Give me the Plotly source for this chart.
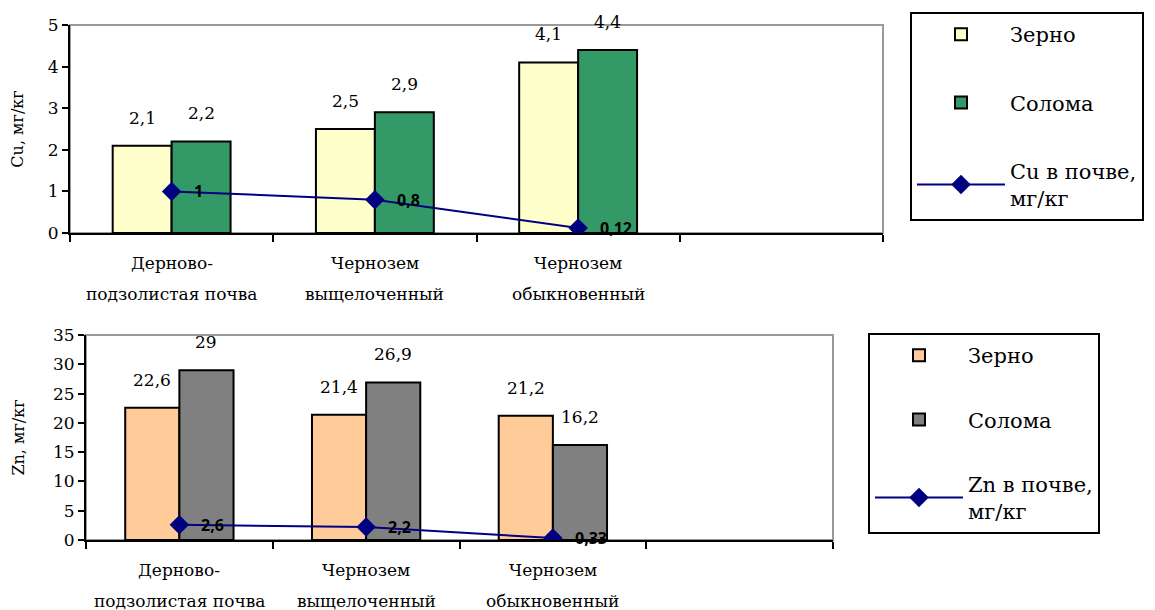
import plotly.graph_objects as go

# ---------------- data ----------------
categories = ["Дерново-подзолистая почва", "Чернозем выщелоченный", "Чернозем обыкновенный"]
empty_slot = " "
cat_line1 = ["Дерново-", "Чернозем", "Чернозем"]
cat_line2 = ["подзолистая почва", "выщелоченный", "обыкновенный"]

cu_grain = [2.1, 2.5, 4.1]
cu_straw = [2.2, 2.9, 4.4]
cu_soil = [1, 0.8, 0.12]

zn_grain = [22.6, 21.4, 21.2]
zn_straw = [29, 26.9, 16.2]
zn_soil = [2.6, 2.2, 0.33]

cu_yticks = [0, 1, 2, 3, 4, 5]
zn_yticks = [0, 5, 10, 15, 20, 25, 30, 35]

series_names = ["Зерно", "Солома"]
cu_line_name = "Cu в почве,<br>мг/кг"
zn_line_name = "Zn в почве,<br>мг/кг"
cu_ytitle = "Cu, мг/кг"
zn_ytitle = "Zn, мг/кг"

# ---------------- styles ----------------
SERIF = "DejaVu Serif"
BOLD = "Open Sans"
NAVY = "#000080"
BARGAP = 0.42
W, H = 1155, 610
OFF = 8  # page body margin in the viewer


def px_x(p):
    return (p - OFF) / W


def px_y(p):
    return 1 - (p - OFF) / H


def fmt(v):
    return f"{v:g}".replace(".", ",")


fig = go.Figure()

panels = [
    dict(x="x", y="y", legend="legend", grain=cu_grain, straw=cu_straw, soil=cu_soil,
         cols=["#FFFFCC", "#339966"], line_name=cu_line_name),
    dict(x="x2", y="y2", legend="legend2", grain=zn_grain, straw=zn_straw, soil=zn_soil,
         cols=["#FFCC99", "#808080"], line_name=zn_line_name),
]

annotations = []
for p in panels:
    for k, (vals, col, nm) in enumerate(zip([p["grain"], p["straw"]], p["cols"], series_names)):
        fig.add_trace(go.Bar(
            x=categories, y=vals, name=nm, xaxis=p["x"], yaxis=p["y"],
            marker=dict(color=col, line=dict(color="black", width=2)),
            legend=p["legend"], legendgroup=p["legend"] + nm, hoverinfo="skip"))
        w = (1 - BARGAP) / 2
        for i, v in enumerate(vals):
            annotations.append(dict(
                x=i - w / 2 + k * w, y=v, xref=p["x"], yref=p["y"], text=fmt(v),
                showarrow=False, yshift=28, yanchor="middle",
                font=dict(family=SERIF, size=17, color="black")))
    fig.add_trace(go.Scatter(
        x=categories, y=p["soil"], name=p["line_name"], mode="lines+markers",
        xaxis=p["x"], yaxis=p["y"], legend=p["legend"], legendgroup=p["legend"] + "line",
        line=dict(color=NAVY, width=2),
        marker=dict(symbol="diamond", size=15, color=NAVY), hoverinfo="skip"))
    for i, v in enumerate(p["soil"]):
        annotations.append(dict(
            x=i, y=v, xref=p["x"], yref=p["y"], text="<b>" + fmt(v) + "</b>",
            showarrow=False, xanchor="left", xshift=20, yanchor="middle",
            font=dict(family=BOLD, size=16, color="black")))
    for i in range(len(categories)):
        for line, shift in ((cat_line1[i], -30), (cat_line2[i], -61)):
            annotations.append(dict(
                x=i, y=0, xref=p["x"], yref=p["y"] + " domain", text=line,
                showarrow=False, yshift=shift, yanchor="middle",
                font=dict(family=SERIF, size=17, color="black")))

xcommon = dict(type="category", categoryorder="array",
               categoryarray=categories + [empty_slot], range=[-0.5, 3.5],
               showline=True, linecolor="black", linewidth=2, ticks="outside",
               tickson="boundaries", ticklen=7, tickwidth=2, tickcolor="black",
               showticklabels=False, showgrid=False, zeroline=False, fixedrange=True,
               automargin=False)
ycommon = dict(showline=True, linecolor="black", linewidth=2, ticks="outside",
               ticklen=6, tickwidth=2, tickcolor="black", showgrid=False, zeroline=False,
               tickfont=dict(family=SERIF, size=17, color="black"), automargin=False)

legend_common = dict(xanchor="left", yanchor="top", bordercolor="black", borderwidth=2,
                     bgcolor="white", font=dict(family=SERIF, size=21, color="black"),
                     itemwidth=88)

fig.update_layout(
    width=W, height=H,
    margin=dict(l=0, r=0, t=0, b=0, autoexpand=False),
    paper_bgcolor="white", plot_bgcolor="white",
    barmode="group", bargap=BARGAP, bargroupgap=0,
    xaxis=dict(xcommon, domain=[px_x(70), px_x(883)], anchor="y"),
    yaxis=dict(ycommon, domain=[px_y(233), px_y(25)], anchor="x",
               range=[0, 5], tickvals=cu_yticks,
               title=dict(text=cu_ytitle, font=dict(family=SERIF, size=16, color="black"), standoff=22)),
    xaxis2=dict(xcommon, domain=[px_x(86), px_x(833)], anchor="y2"),
    yaxis2=dict(ycommon, domain=[px_y(540), px_y(335)], anchor="x2",
                range=[0, 35], tickvals=zn_yticks,
                title=dict(text=zn_ytitle, font=dict(family=SERIF, size=16, color="black"), standoff=24)),
    legend=dict(legend_common, x=px_x(910), y=px_y(12), tracegroupgap=38),
    legend2=dict(legend_common, x=px_x(868), y=px_y(333), tracegroupgap=34),
    annotations=annotations,
    shapes=[
        dict(type="rect", xref="x domain", yref="y domain", x0=0, x1=1, y0=0, y1=1,
             line=dict(color="#999999", width=2), layer="below"),
        dict(type="rect", xref="x2 domain", yref="y2 domain", x0=0, x1=1, y0=0, y1=1,
             line=dict(color="#999999", width=2), layer="below"),
    ],
    showlegend=True,
)

fig.write_html("out.html")
